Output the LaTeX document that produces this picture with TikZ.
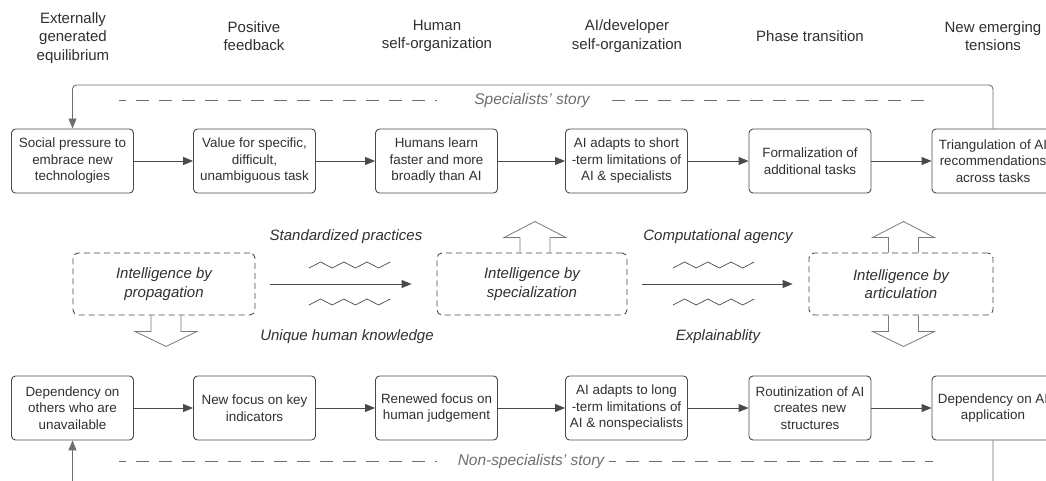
\documentclass[tikz,border=0pt]{standalone}
\usepackage{fontspec}
\setmainfont{Liberation Sans}
\usetikzlibrary{arrows.meta,calc}
\definecolor{ink}{HTML}{303030}
\definecolor{edgec}{HTML}{4A4A4A}
\definecolor{soft}{HTML}{6E6E6E}
\definecolor{blkc}{HTML}{7A7A7A}
\newcommand\zzline[2]{%
  \draw[zz] (#1,#2+3) -- ++(11.6,-6) -- ++(11.6,6) -- ++(11.6,-6) -- ++(11.6,6) -- ++(11.6,-6) -- ++(11.6,6) -- ++(11.6,-6);}
\begin{document}
\begin{tikzpicture}[x=1pt,y=-1pt,
  box/.style={draw=edgec, line width=0.9pt, rounded corners=4pt, minimum width=122pt,
    minimum height=64pt, inner sep=0pt, align=center, text=ink,
    font=\fontsize{13.4}{16.5}\selectfont},
  head/.style={align=center, text=ink, inner sep=0pt, font=\fontsize{15}{18.5}\selectfont},
  mid/.style={draw=edgec, line width=0.9pt, dash pattern=on 6pt off 4pt, rounded corners=5pt,
    minimum height=62pt, inner sep=0pt, align=center, text=ink,
    font=\fontsize{15}{18.5}\selectfont\itshape},
  lab/.style={text=ink, inner sep=0pt, font=\fontsize{15}{18}\selectfont\itshape},
  story/.style={text=soft, inner sep=0pt, font=\fontsize{15.5}{18}\selectfont\itshape},
  storyline/.style={draw=soft, line width=0.9pt, dash pattern=on 13pt off 10pt},
  arr/.style={draw=edgec, line width=0.9pt, -{Triangle[length=10pt,width=8pt]}},
  fb/.style={draw=soft, line width=0.9pt, rounded corners=4pt, -{Triangle[length=10pt,width=8pt]}},
  blk/.style={draw=blkc, line width=0.8pt},
  zz/.style={draw=edgec, line width=0.7pt}]
\clip (0,0) rectangle (1046,481);
\fill[white] (0,0) rectangle (1046,481);

% column headings
\node[head] (h1) at (73,38) {Externally\\generated\\equilibrium};
\node[head] (h2) at (254,36) {Positive\\feedback};
\node[head] (h3) at (437,36) {Human\\self-organization};
\node[head] (h4) at (627,36) {AI/developer\\self-organization};
\node[head] (h5) at (810,36) {Phase transition};
\node[head] (h6) at (993,36) {New emerging\\tensions};

% specialists' story row
\node[box] (a1) at (72.5,161) {Social pressure to\\embrace new\\technologies};
\node[box] (a2) at (254.5,161) {Value for specific,\\difficult,\\unambiguous task};
\node[box] (a3) at (436.5,161) {Humans learn\\faster and more\\broadly than AI};
\node[box] (a4) at (626.5,161) {AI adapts to short\\-term limitations of\\AI \& specialists};
\node[box] (a5) at (810,161) {Formalization of\\additional tasks};
\node[box] (a6) at (993,161) {Triangulation of AI\\recommendations\\across tasks};

% non-specialists' story row
\node[box] (b1) at (72.5,408) {Dependency on\\others who are\\unavailable};
\node[box] (b2) at (254.5,408) {New focus on key\\indicators};
\node[box] (b3) at (436.5,408) {Renewed focus on\\human judgement};
\node[box] (b4) at (626.5,408) {AI adapts to long\\-term limitations of\\AI \& nonspecialists};
\node[box] (b5) at (810,408) {Routinization of AI\\creates new\\structures};
\node[box] (b6) at (993,408) {Dependency on AI\\application};

\foreach \p/\q in {a1/a2,a2/a3,a3/a4,a4/a5,a5/a6,b1/b2,b2/b3,b3/b4,b4/b5,b5/b6}
  \draw[arr] (\p) -- (\q);

% feedback loops
\coordinate (topy) at (0,85);
\coordinate (boty) at (0,530);
\draw[fb] (a6.north) -- (a6.north |- topy) -- (a1.north |- topy) -- (a1.north);
\draw[fb] (b6.south) -- (b6.south |- boty) -- (b1.south |- boty) -- (b1.south);

% story lines
\node[story] (st1) at (532,100) {Specialists' story};
\draw[storyline, dash phase=6pt] (119,100) -- (437,100);
\draw[storyline] (612,100) -- (933,100);
\node[story] (st2) at (531,461) {Non-specialists' story};
\draw[storyline, dash phase=6pt] (119,461) -- (437,461);
\draw[storyline, dash phase=6pt] (609,461) -- (933,461);

% middle row
\node[mid, minimum width=182pt] (m1) at (164,284) {Intelligence by\\propagation};
\node[mid, minimum width=190pt] (m2) at (532,284) {Intelligence by\\specialization};
\node[mid, minimum width=184pt] (m3) at (901,284) {Intelligence by\\articulation};

\draw[arr, shorten <=15pt, shorten >=25pt] (m1) -- (m2);
\draw[arr, shorten <=15pt, shorten >=16pt] (m2) -- (m3);

\node[lab] (l1) at (346,237) {Standardized practices};
\node[lab] (l2) at (347,337) {Unique human knowledge};
\node[lab] (l3) at (718,237) {Computational agency};
\node[lab] (l4) at (718,337) {Explainablity};

\zzline{309}{265}
\zzline{309}{302}
\zzline{673}{265}
\zzline{673}{302}

% block arrows
\draw[blk] ([xshift=-15pt]m1.south -| 166,0) -- ++(0,16) -- ++(-16,0) -- ++(31,15) -- ++(31,-15) -- ++(-16,0) -- ++(0,-16);
\draw[blk] ([xshift=-15pt]m2.north -| 535,0) -- ++(0,-15) -- ++(-16,0) -- ++(31,-16) -- ++(31,16) -- ++(-16,0) -- ++(0,15);
\draw[blk] ([xshift=-15pt]m3.north -| 903.5,0) -- ++(0,-15) -- ++(-16,0) -- ++(31,-16) -- ++(31,16) -- ++(-16,0) -- ++(0,15);
\draw[blk] ([xshift=-15pt]m3.south -| 903.5,0) -- ++(0,16) -- ++(-16,0) -- ++(31,15) -- ++(31,-15) -- ++(-16,0) -- ++(0,-16);
\end{tikzpicture}
\end{document}
